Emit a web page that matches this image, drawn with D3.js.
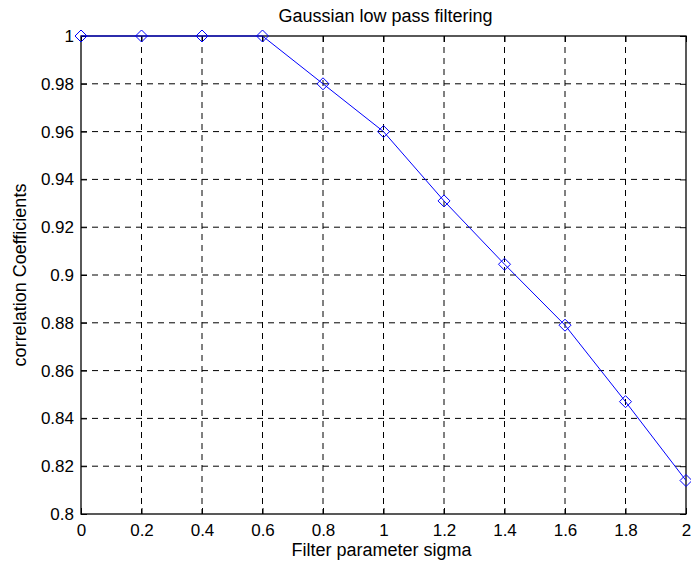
<!DOCTYPE html>
<html>
<head>
<meta charset="utf-8">
<script src="https://cdn.jsdelivr.net/npm/d3@7"></script>
<style>
  body { margin: 0; background: #fff; }
  text { font-family: Arial, "Liberation Sans", Helvetica, sans-serif; }
</style>
</head>
<body>
<svg width="691" height="567"></svg>
<script>
// values
const sigma = [0, 0.2, 0.4, 0.6, 0.8, 1.0, 1.2, 1.4, 1.6, 1.8, 2.0]
const correlation = [1, 1, 1, 1, 0.98, 0.96, 0.931, 0.9045, 0.879, 0.847, 0.814]
const xTicks = [0, 0.2, 0.4, 0.6, 0.8, 1, 1.2, 1.4, 1.6, 1.8, 2]
const yTicks = [0.8, 0.82, 0.84, 0.86, 0.88, 0.9, 0.92, 0.94, 0.96, 0.98, 1]

let svg = d3.select("svg")

let plotLeft = 81, plotRight = 686, plotTop = 36, plotBottom = 514

let x = d3.scaleLinear().domain([0, 2]).range([plotLeft, plotRight])
let y = d3.scaleLinear().domain([0.8, 1]).range([plotBottom, plotTop])

// dashed grid, not on the box edges
let grid = svg.append("g")
              .attr("stroke", "#000")
              .attr("stroke-width", 1)
              .attr("stroke-dasharray", "6,5")

grid.selectAll("line.v")
    .data(xTicks.slice(1, -1))
    .enter()
    .append("line")
    .attr("x1", d => x(d)).attr("x2", d => x(d))
    .attr("y1", plotTop).attr("y2", plotBottom)

grid.selectAll("line.h")
    .data(yTicks.slice(1, -1))
    .enter()
    .append("line")
    .attr("x1", plotLeft).attr("x2", plotRight)
    .attr("y1", d => y(d)).attr("y2", d => y(d))

let fmt = d => String(+d.toFixed(2))

svg.append("g")
   .attr("transform", `translate(0, ${plotBottom})`)
   .call(d3.axisBottom(x).tickValues(xTicks).tickFormat(fmt).tickSize(-6).tickPadding(10))

svg.append("g")
   .attr("transform", `translate(${plotLeft}, 0)`)
   .call(d3.axisLeft(y).tickValues(yTicks).tickFormat(fmt).tickSize(-6).tickPadding(7))

// ticks on top and right as well
svg.append("g")
   .attr("transform", `translate(0, ${plotTop})`)
   .call(d3.axisTop(x).tickValues(xTicks).tickFormat("").tickSize(-6))

svg.append("g")
   .attr("transform", `translate(${plotRight}, 0)`)
   .call(d3.axisRight(y).tickValues(yTicks).tickFormat("").tickSize(-6))

svg.selectAll(".domain").remove()
svg.selectAll(".tick line").attr("stroke", "#000")
svg.selectAll(".tick text")
   .attr("fill", "#000")
   .style("font-size", "17px")
   .style("font-family", "Arial, 'Liberation Sans', sans-serif")

svg.append("rect")
   .attr("x", plotLeft).attr("y", plotTop)
   .attr("width", plotRight - plotLeft).attr("height", plotBottom - plotTop)
   .attr("fill", "none")
   .attr("stroke", "#000")
   .attr("stroke-width", 1.3)

let line = d3.line()
             .x((d, i) => x(sigma[i]))
             .y(d => y(d))

svg.append("path")
   .datum(correlation)
   .attr("d", line)
   .attr("fill", "none")
   .attr("stroke", "#0000ff")
   .attr("stroke-width", 1)

svg.selectAll("path.marker")
   .data(correlation)
   .enter()
   .append("path")
   .attr("d", "M0,-6L6,0L0,6L-6,0Z")
   .attr("transform", (d, i) => `translate(${x(sigma[i])}, ${y(d)})`)
   .attr("fill", "none")
   .attr("stroke", "#0000ff")
   .attr("stroke-width", 1)

svg.append("text")
   .text("Gaussian low pass filtering")
   .attr("x", (plotLeft + plotRight) / 2 + 2)
   .attr("y", 22)
   .attr("text-anchor", "middle")
   .style("font-size", "18px")

svg.append("text")
   .text("Filter parameter sigma")
   .attr("x", (plotLeft + plotRight) / 2 - 2)
   .attr("y", 556)
   .attr("text-anchor", "middle")
   .style("font-size", "18px")

svg.append("text")
   .text("correlation Coefficients")
   .attr("transform", `translate(26, ${(plotTop + plotBottom) / 2}) rotate(-90)`)
   .attr("text-anchor", "middle")
   .style("font-size", "18px")
</script>
</body>
</html>
